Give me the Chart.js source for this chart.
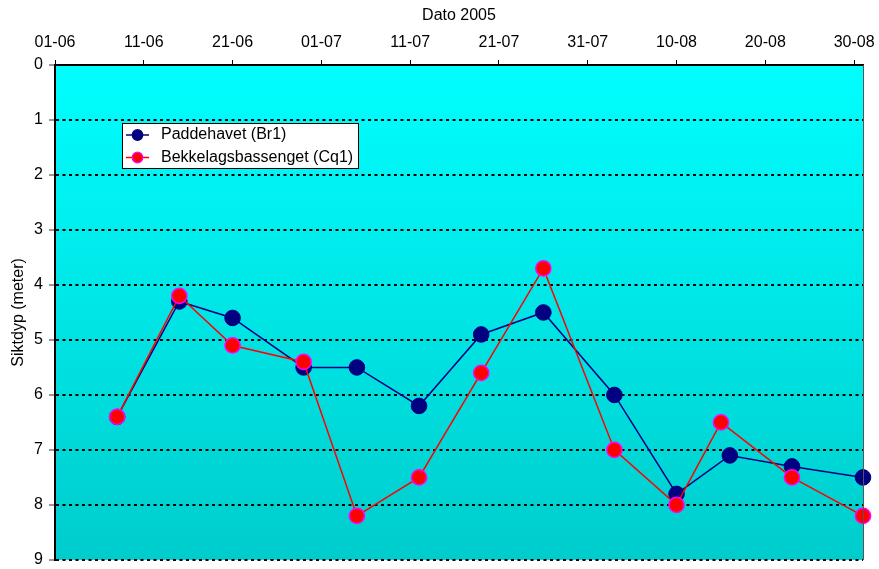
<!DOCTYPE html>
<html>
<head>
<meta charset="utf-8">
<script src="https://cdn.jsdelivr.net/npm/chart.js@4"></script>
<style>
  html, body { margin: 0; padding: 0; background: #fff; }
  #wrap { width: 879px; height: 569px; position: relative; }
</style>
</head>
<body>
<div id="wrap"><canvas id="c" width="879" height="569"></canvas></div>
<script>
// ---- data ----
const xTitle = 'Dato 2005';
const yTitle = 'Siktdyp (meter)';
const xTickLabels = ['01-06','11-06','21-06','01-07','11-07','21-07','31-07','10-08','20-08','30-08'];
const xStart = '01-06';
const xEnd = '31-08';
const seriesNames = ['Paddehavet (Br1)', 'Bekkelagsbassenget (Cq1)'];
const datesBr1 = ['08-06','15-06','21-06','29-06','05-07','12-07','19-07','26-07','03-08','10-08','16-08','23-08','31-08'];
const valuesBr1 = [6.4, 4.3, 4.6, 5.5, 5.5, 6.2, 4.9, 4.5, 6.0, 7.8, 7.1, 7.3, 7.5];
const datesCq1 = ['08-06','15-06','21-06','29-06','05-07','12-07','19-07','26-07','03-08','10-08','15-08','23-08','31-08'];
const valuesCq1 = [6.4, 4.2, 5.1, 5.4, 8.2, 7.5, 5.6, 3.7, 7.0, 8.0, 6.5, 7.5, 8.2];
const yMin = 0, yMax = 9, yStep = 1;

// ---- helpers ----
function dayOf(s) {
  const [d, m] = s.split('-').map(Number);
  const [d0, m0] = xStart.split('-').map(Number);
  return Math.round((Date.UTC(2005, m - 1, d) - Date.UTC(2005, m0 - 1, d0)) / 86400000);
}
const tickMap = {};
xTickLabels.forEach(l => { tickMap[dayOf(l)] = l; });
const toPts = (dates, vals) => dates.map((d, i) => ({ x: dayOf(d), y: vals[i] }));

const FONT = '"Liberation Sans", Arial, sans-serif';
Chart.defaults.font.family = FONT;
Chart.defaults.font.size = 16;
Chart.defaults.color = '#000';

const colors = {
  br: { line: '#000080', fill: '#000080', border: '#000080' },
  cq: { line: '#FF0000', fill: '#FF0000', border: '#FF00FF' }
};

const bgPlugin = {
  id: 'bg',
  beforeDraw(chart) {
    const { ctx, chartArea: a } = chart;
    const g = ctx.createLinearGradient(0, a.top, 0, a.bottom);
    g.addColorStop(0, 'rgb(0,255,255)');
    g.addColorStop(1, 'rgb(0,204,204)');
    ctx.save();
    ctx.fillStyle = g;
    ctx.fillRect(a.left, a.top, a.right - a.left, a.bottom - a.top);
    ctx.restore();
  },
  afterDraw(chart) {
    const { ctx, chartArea: a } = chart;
    ctx.save();
    ctx.strokeStyle = '#555';
    ctx.lineWidth = 1;
    ctx.beginPath();
    ctx.moveTo(a.right + 0.5, a.top);
    ctx.lineTo(a.right + 0.5, a.bottom);
    ctx.stroke();
    ctx.restore();
  }
};

const legendPlugin = {
  id: 'boxLegend',
  afterDatasetsDraw(chart) {
    const { ctx } = chart;
    const box = { x: 122.5, y: 123.5, w: 236, h: 45 };
    ctx.save();
    ctx.fillStyle = '#fff';
    ctx.fillRect(box.x, box.y, box.w, box.h);
    ctx.strokeStyle = '#000';
    ctx.lineWidth = 1;
    ctx.strokeRect(box.x, box.y, box.w, box.h);
    const rows = [
      { name: seriesNames[0], c: colors.br, y: 135 },
      { name: seriesNames[1], c: colors.cq, y: 157.5 }
    ];
    rows.forEach(r => {
      ctx.strokeStyle = r.c.line;
      ctx.lineWidth = 1.5;
      ctx.beginPath();
      ctx.moveTo(126, r.y);
      ctx.lineTo(149, r.y);
      ctx.stroke();
      ctx.beginPath();
      ctx.arc(137.5, r.y, 5.3, 0, Math.PI * 2);
      ctx.fillStyle = r.c.fill;
      ctx.fill();
      ctx.strokeStyle = r.c.border;
      ctx.lineWidth = 1.2;
      ctx.stroke();
      ctx.fillStyle = '#000';
      ctx.font = '16px ' + FONT;
      ctx.textBaseline = 'middle';
      ctx.textAlign = 'left';
      ctx.fillText(r.name, 161, r.y);
    });
    ctx.restore();
  }
};

new Chart(document.getElementById('c'), {
  type: 'line',
  data: {
    datasets: [
      {
        label: seriesNames[0],
        data: toPts(datesBr1, valuesBr1),
        borderColor: colors.br.line,
        backgroundColor: colors.br.fill,
        pointBorderColor: colors.br.border,
        pointBackgroundColor: colors.br.fill,
        borderWidth: 1.5,
        pointRadius: 7.8,
        pointBorderWidth: 1,
        tension: 0,
        clip: false,
        order: 2
      },
      {
        label: seriesNames[1],
        data: toPts(datesCq1, valuesCq1),
        borderColor: colors.cq.line,
        backgroundColor: colors.cq.fill,
        pointBorderColor: colors.cq.border,
        pointBackgroundColor: colors.cq.fill,
        borderWidth: 1.5,
        pointRadius: 7.6,
        pointBorderWidth: 1.5,
        tension: 0,
        clip: false,
        order: 1
      }
    ]
  },
  options: {
    responsive: false,
    animation: false,
    events: [],
    layout: { padding: { left: 0, top: 0, right: 16, bottom: 7 } },
    plugins: { legend: { display: false }, tooltip: { enabled: false } },
    scales: {
      x: {
        type: 'linear',
        position: 'top',
        min: dayOf(xStart),
        max: dayOf(xEnd),
        afterBuildTicks(scale) {
          scale.ticks = xTickLabels.map(l => ({ value: dayOf(l) }));
        },
        afterFit(scale) {
          scale.height = 65;
          scale.paddingLeft = 0; scale.paddingRight = 0;
          scale.paddingTop = 0; scale.paddingBottom = 0;
        },
        ticks: {
          callback: v => tickMap[v] !== undefined ? tickMap[v] : '',
          padding: 8,
          maxRotation: 0,
          autoSkip: false,
          font: { size: 16 }
        },
        grid: { drawOnChartArea: false, drawTicks: true, tickLength: 5, color: '#000', lineWidth: 1 },
        border: { display: true, color: '#000', width: 2 },
        title: { display: true, text: xTitle, padding: { top: 5.5, bottom: 0 }, font: { size: 16 } }
      },
      y: {
        type: 'linear',
        reverse: true,
        min: yMin,
        max: yMax,
        afterFit(scale) {
          scale.width = 55;
          scale.paddingLeft = 0; scale.paddingRight = 0;
          scale.paddingTop = 0; scale.paddingBottom = 0;
        },
        ticks: { stepSize: yStep, padding: 6, font: { size: 16 } },
        grid: { color: '#000', lineWidth: 2, tickLength: 6, tickWidth: 1, tickColor: '#333' },
        border: { display: true, color: '#000', width: 2, dash: [3, 3.5] },
        title: { display: true, text: yTitle, padding: { top: 8.5, bottom: 0 }, font: { size: 16 } }
      }
    }
  },
  plugins: [bgPlugin, legendPlugin]
});
</script>
</body>
</html>
